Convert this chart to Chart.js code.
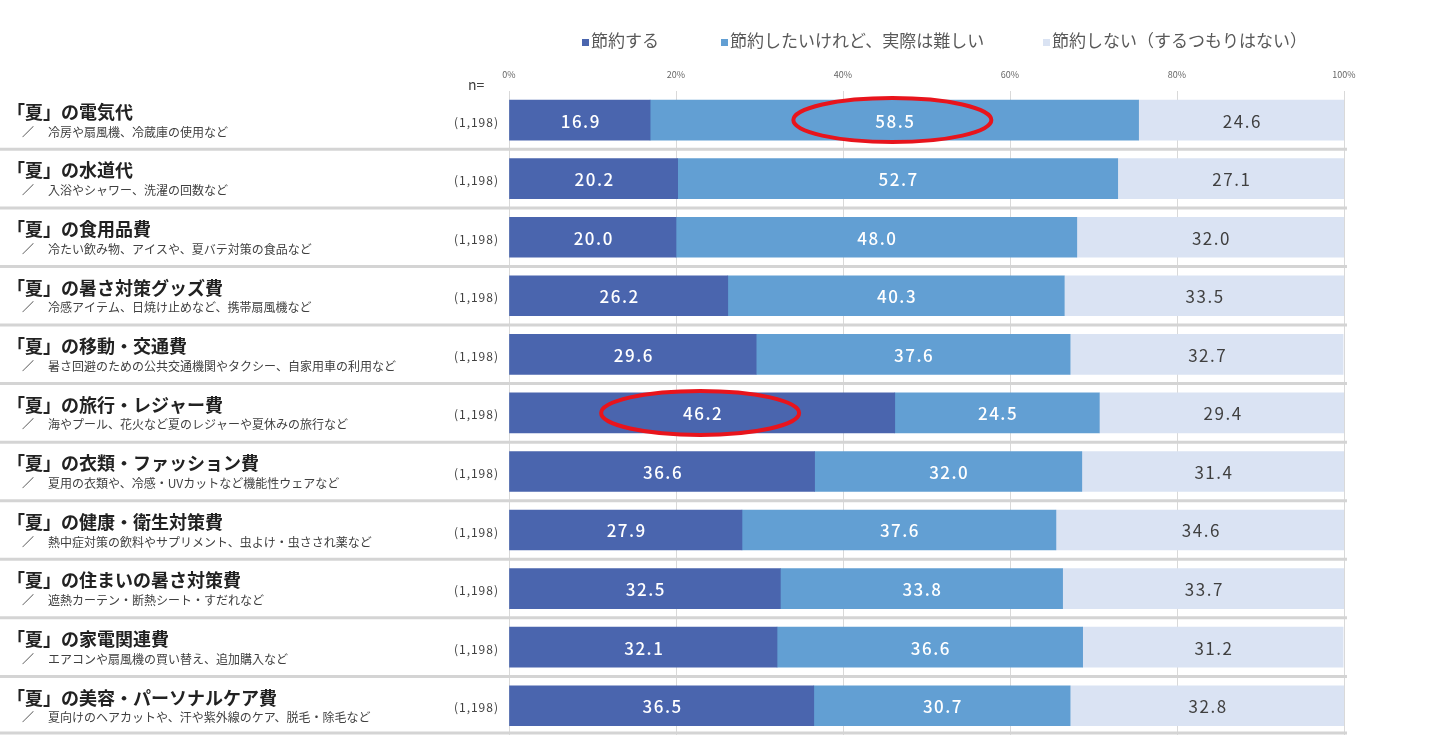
<!DOCTYPE html>
<html lang="ja">
<head>
<meta charset="utf-8">
<script src="https://cdn.jsdelivr.net/npm/chart.js@4.4.1/dist/chart.umd.min.js"></script>
<style>
  html, body { margin: 0; padding: 0; background: #fff; }
  #wrap { width: 1444px; height: 738px; position: relative; }
</style>
</head>
<body>
<div id="wrap"><canvas id="chart"></canvas></div>
<script>
// 項目（タイトル・補足・n数）
const titles = [
    '「夏」の電気代',
    '「夏」の水道代',
    '「夏」の食用品費',
    '「夏」の暑さ対策グッズ費',
    '「夏」の移動・交通費',
    '「夏」の旅行・レジャー費',
    '「夏」の衣類・ファッション費',
    '「夏」の健康・衛生対策費',
    '「夏」の住まいの暑さ対策費',
    '「夏」の家電関連費',
    '「夏」の美容・パーソナルケア費'
];
const notes = [
    '冷房や扇風機、冷蔵庫の使用など',
    '入浴やシャワー、洗濯の回数など',
    '冷たい飲み物、アイスや、夏バテ対策の食品など',
    '冷感アイテム、日焼け止めなど、携帯扇風機など',
    '暑さ回避のための公共交通機関やタクシー、自家用車の利用など',
    '海やプール、花火など夏のレジャーや夏休みの旅行など',
    '夏用の衣類や、冷感・UVカットなど機能性ウェアなど',
    '熱中症対策の飲料やサプリメント、虫よけ・虫さされ薬など',
    '遮熱カーテン・断熱シート・すだれなど',
    'エアコンや扇風機の買い替え、追加購入など',
    '夏向けのヘアカットや、汗や紫外線のケア、脱毛・除毛など'
];
const nCounts = ['(1,198)', '(1,198)', '(1,198)', '(1,198)', '(1,198)', '(1,198)',
    '(1,198)', '(1,198)', '(1,198)', '(1,198)', '(1,198)'];

// 系列
const seriesNames = ['節約する', '節約したいけれど、実際は難しい', '節約しない（するつもりはない）'];
const saveValues = [16.9, 20.2, 20.0, 26.2, 29.6, 46.2, 36.6, 27.9, 32.5, 32.1, 36.5];
const hardValues = [58.5, 52.7, 48.0, 40.3, 37.6, 24.5, 32.0, 37.6, 33.8, 36.6, 30.7];
const noSaveValues = [24.6, 27.1, 32.0, 33.5, 32.7, 29.4, 31.4, 34.6, 33.7, 31.2, 32.8];

// 目盛り
const xTicks = [0, 20, 40, 60, 80, 100];

// 強調（行番号, 系列番号）
const highlights = [[0, 1], [5, 0]];

const colors = ['#4a65ae', '#629fd3', '#dae3f3'];
const labelColors = ['#ffffff', '#ffffff', '#404040'];
const jpFont = "'Noto Sans CJK JP', 'Noto Sans', sans-serif";

// 凡例（手描き）
const legendPlugin = {
    id: 'manualLegend',
    afterDraw(chart) {
        const { ctx } = chart;
        const startX = [582, 721, 1043];
        ctx.save();
        ctx.font = '17px ' + jpFont;
        ctx.textBaseline = 'middle';
        ctx.textAlign = 'left';
        seriesNames.forEach((name, i) => {
            ctx.fillStyle = colors[i];
            ctx.fillRect(startX[i], 39, 7, 7);
            ctx.fillStyle = '#595959';
            ctx.fillText(name, startX[i] + 9, 41);
        });
        ctx.restore();
    }
};

// 行の区切り線と左側のラベル
const rowPlugin = {
    id: 'rowLabels',
    beforeDatasetsDraw(chart) {
        const { ctx, scales: { y } } = chart;
        ctx.save();
        ctx.strokeStyle = '#d4d4d4';
        ctx.lineWidth = 3;
        for (let i = 0; i < titles.length; i++) {
            const yb = i < titles.length - 1
                ? (y.getPixelForValue(i) + y.getPixelForValue(i + 1)) / 2
                : y.getPixelForValue(i) + (y.getPixelForValue(i) - y.getPixelForValue(i - 1)) / 2 - 2;
            ctx.beginPath();
            ctx.moveTo(0, yb);
            ctx.lineTo(1347, yb);
            ctx.stroke();
        }
        ctx.restore();
    },
    afterDraw(chart) {
        const { ctx, scales: { y }, chartArea } = chart;
        ctx.save();
        ctx.textBaseline = 'middle';
        titles.forEach((t, i) => {
            const cy = y.getPixelForValue(i);
            ctx.fillStyle = '#222222';
            ctx.textAlign = 'left';
            ctx.font = 'bold 18px ' + jpFont;
            ctx.fillText(t, 7, cy - 8);
            ctx.fillStyle = '#404040';
            ctx.font = '12px ' + jpFont;
            ctx.fillText('／', 22, cy + 12);
            ctx.fillText(notes[i], 48, cy + 12);
            ctx.textAlign = 'right';
            if ('letterSpacing' in ctx) ctx.letterSpacing = '1px';
            ctx.fillText(nCounts[i], 499, cy + 2);
            if ('letterSpacing' in ctx) ctx.letterSpacing = '0px';
        });
        ctx.textAlign = 'left';
        ctx.font = '14px ' + jpFont;
        ctx.fillStyle = '#404040';
        ctx.fillText('n=', 468, chartArea.top - 6);
        ctx.restore();
    }
};

// 値ラベルと赤い楕円
const valuePlugin = {
    id: 'valueLabels',
    afterDatasetsDraw(chart) {
        const { ctx } = chart;
        ctx.save();
        ctx.textAlign = 'center';
        ctx.textBaseline = 'middle';
        if ('letterSpacing' in ctx) ctx.letterSpacing = '1.5px';
        chart.data.datasets.forEach((ds, di) => {
            const meta = chart.getDatasetMeta(di);
            meta.data.forEach((bar, i) => {
                const cx = (bar.x + bar.base) / 2;
                ctx.fillStyle = labelColors[di];
                ctx.font = (di < 2 ? '500 ' : '400 ') + '17px ' + jpFont;
                ctx.fillText(ds.data[i].toFixed(1), cx + 1, bar.y + 1);
            });
        });
        if ('letterSpacing' in ctx) ctx.letterSpacing = '0px';
        ctx.strokeStyle = '#e8141c';
        ctx.lineWidth = 4;
        highlights.forEach(([row, di]) => {
            const bar = chart.getDatasetMeta(di).data[row];
            const cx = (bar.x + bar.base) / 2;
            ctx.beginPath();
            ctx.ellipse(cx - 2, bar.y, 99, 22, 0, 0, Math.PI * 2);
            ctx.stroke();
        });
        ctx.restore();
    }
};

new Chart(document.getElementById('chart'), {
    type: 'bar',
    data: {
        labels: titles,
        datasets: [
            { label: seriesNames[0], data: saveValues, backgroundColor: colors[0] },
            { label: seriesNames[1], data: hardValues, backgroundColor: colors[1] },
            { label: seriesNames[2], data: noSaveValues, backgroundColor: colors[2] }
        ]
    },
    options: {
        indexAxis: 'y',
        responsive: true,
        maintainAspectRatio: false,
        animation: false,
        barThickness: 40,
        layout: { padding: { left: 509, right: 100, top: 58, bottom: 3 } },
        plugins: {
            tooltip: { enabled: false },
            legend: { display: false }
        },
        scales: {
            x: {
                stacked: true,
                position: 'top',
                min: 0,
                max: 100,
                afterBuildTicks(axis) {
                    axis.ticks = xTicks.map(v => ({ value: v }));
                },
                ticks: {
                    callback: v => v + '%',
                    font: { size: 9, family: jpFont },
                    color: '#666666',
                    padding: 11
                },
                grid: { color: '#d9d9d9', lineWidth: 1, drawTicks: false },
                border: { display: false }
            },
            y: {
                stacked: true,
                display: false
            }
        }
    },
    plugins: [rowPlugin, valuePlugin, legendPlugin]
});
</script>
</body>
</html>
